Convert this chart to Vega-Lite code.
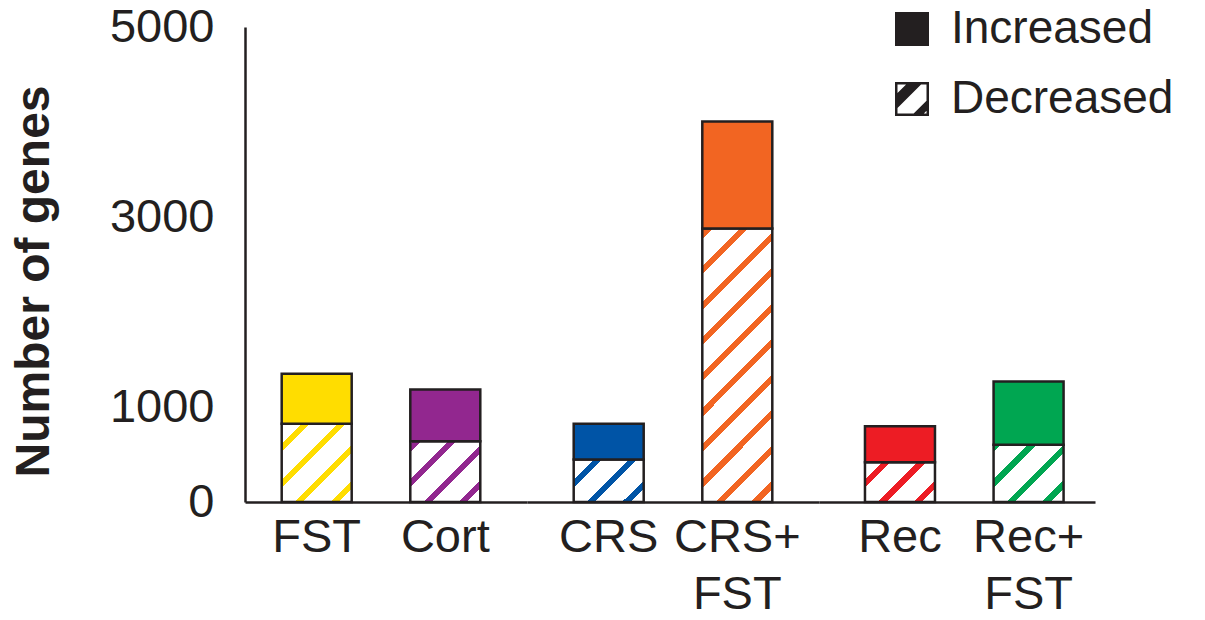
{
  "$schema": "https://vega.github.io/schema/vega-lite/v6.json",
  "padding": {"left": 10, "top": 3, "right": 0, "bottom": 0},
  "background": "white",
  "config": {
    "view": {"stroke": null},
    "font": "Liberation Sans",
    "axis": {"labelColor": "#231f20", "domainColor": "#231f20", "titleColor": "#231f20", "grid": false, "ticks": false},
    "legend": {"title": null, "orient": "none", "legendX": 644, "legendY": -21, "direction": "vertical", "symbolSize": 1156, "symbolFillColor": "#231f20", "symbolStrokeWidth": 0, "symbolOpacity": 1, "labelFontSize": 46, "labelColor": "#231f20", "labelOffset": 16, "labelLimit": 0, "rowPadding": 24, "padding": 0}
  },
  "data": {"values": [
    {"cond": "FST", "group": "A", "decreased": 823, "total": 1349},
    {"cond": "Cort", "group": "A", "decreased": 640, "total": 1184},
    {"cond": "CRS", "group": "B", "decreased": 447, "total": 823},
    {"cond": "CRS+FST", "group": "B", "decreased": 2879, "total": 4005},
    {"cond": "Rec", "group": "C", "decreased": 419, "total": 798},
    {"cond": "Rec+FST", "group": "C", "decreased": 602, "total": 1268}
  ]},
  "spacing": 0,
  "bounds": "flush",
  "hconcat": [
    {
      "width": 282, "height": 475,
      "transform": [{"filter": {"field": "group", "equal": "A"}}],
      "layer": [
        {
          "mark": {"type": "bar", "strokeWidth": 2.5, "stroke": "#231f20"},
          "encoding": {
            "x": {"field": "cond", "type": "nominal", "sort": null,
              "scale": {"domain": ["FST", "Cort"], "paddingInner": 0.45568, "paddingOuter": 0.3243, "align": 0.44},
              "axis": {"title": null, "labelAngle": 0, "labelFontSize": 47, "labelPadding": 12, "labelLineHeight": 57, "domainWidth": 2.5,
                "labelExpr": "indexof(datum.label, '+') > 0 ? [slice(datum.label, 0, indexof(datum.label, '+') + 1), slice(datum.label, indexof(datum.label, '+') + 1)] : datum.label"}},
            "y": {"field": "decreased", "type": "quantitative",
              "scale": {"domain": [0, 5000], "nice": false},
              "axis": {"values": [0, 1000, 3000, 5000], "format": "d", "labelFontSize": 47, "labelPadding": 31, "labelFlush": false, "labelOverlap": false, "domainWidth": 2.5,
                "title": "Number of genes", "titleFontSize": 48, "titleFontWeight": "bold", "titlePadding": 51, "titleY": 254}},
            "fill": {"condition": [
              {"test": "datum.cond === 'FST'", "value": {"gradient": "linear", "x1": 0, "y1": 0, "x2": 0.9418, "y2": 1.0522, "stops": [
                {"offset": 0, "color": "white"}, {"offset": 0.135, "color": "white"}, {"offset": 0.135, "color": "#FFDD00"}, {"offset": 0.1916, "color": "#FFDD00"}, {"offset": 0.1916, "color": "white"},
                {"offset": 0.3745, "color": "white"}, {"offset": 0.3745, "color": "#FFDD00"}, {"offset": 0.4312, "color": "#FFDD00"}, {"offset": 0.4312, "color": "white"},
                {"offset": 0.614, "color": "white"}, {"offset": 0.614, "color": "#FFDD00"}, {"offset": 0.6707, "color": "#FFDD00"}, {"offset": 0.6707, "color": "white"},
                {"offset": 0.8536, "color": "white"}, {"offset": 0.8536, "color": "#FFDD00"}, {"offset": 0.9103, "color": "#FFDD00"}, {"offset": 0.9103, "color": "white"}, {"offset": 1, "color": "white"}]}},
              {"test": "datum.cond === 'Cort'", "value": {"gradient": "linear", "x1": 0, "y1": 0, "x2": 1.0651, "y2": 0.9251, "stops": [
                {"offset": 0, "color": "white"}, {"offset": 0.0199, "color": "white"}, {"offset": 0.0199, "color": "#92278F"}, {"offset": 0.0841, "color": "#92278F"}, {"offset": 0.0841, "color": "white"},
                {"offset": 0.2913, "color": "white"}, {"offset": 0.2913, "color": "#92278F"}, {"offset": 0.3555, "color": "#92278F"}, {"offset": 0.3555, "color": "white"},
                {"offset": 0.5627, "color": "white"}, {"offset": 0.5627, "color": "#92278F"}, {"offset": 0.6269, "color": "#92278F"}, {"offset": 0.6269, "color": "white"},
                {"offset": 0.8341, "color": "white"}, {"offset": 0.8341, "color": "#92278F"}, {"offset": 0.8983, "color": "#92278F"}, {"offset": 0.8983, "color": "white"}, {"offset": 1, "color": "white"}]}}
            ], "value": "white"}
          }
        },
        {
          "mark": {"type": "bar", "strokeWidth": 2.5, "stroke": "#231f20"},
          "encoding": {
            "x": {"field": "cond", "type": "nominal", "sort": null,
              "scale": {"domain": ["FST", "Cort"], "paddingInner": 0.45568, "paddingOuter": 0.3243, "align": 0.44},
              "axis": {"title": null, "labelAngle": 0, "labelFontSize": 47, "labelPadding": 12, "labelLineHeight": 57, "domainWidth": 2.5,
                "labelExpr": "indexof(datum.label, '+') > 0 ? [slice(datum.label, 0, indexof(datum.label, '+') + 1), slice(datum.label, indexof(datum.label, '+') + 1)] : datum.label"}},
            "y": {"field": "total", "type": "quantitative",
              "scale": {"domain": [0, 5000], "nice": false},
              "axis": {"values": [0, 1000, 3000, 5000], "format": "d", "labelFontSize": 47, "labelPadding": 31, "labelFlush": false, "labelOverlap": false, "domainWidth": 2.5,
                "title": "Number of genes", "titleFontSize": 48, "titleFontWeight": "bold", "titlePadding": 51, "titleY": 254}},
            "y2": {"field": "decreased"},
            "fill": {"field": "cond", "type": "nominal", "legend": null,
              "scale": {"domain": ["FST", "Cort", "CRS", "CRS+FST", "Rec", "Rec+FST"], "range": ["#FFDD00", "#92278F", "#0054A6", "#F26522", "#ED1C24", "#00A651"]}}
          }
        },
        {
          "mark": {"type": "point", "filled": true, "opacity": 0, "color": "#231f20"},
          "encoding": {
            "x": {"field": "cond", "type": "nominal", "sort": null,
              "scale": {"domain": ["FST", "Cort"], "paddingInner": 0.45568, "paddingOuter": 0.3243, "align": 0.44},
              "axis": {"title": null, "labelAngle": 0, "labelFontSize": 47, "labelPadding": 12, "labelLineHeight": 57, "domainWidth": 2.5,
                "labelExpr": "indexof(datum.label, '+') > 0 ? [slice(datum.label, 0, indexof(datum.label, '+') + 1), slice(datum.label, indexof(datum.label, '+') + 1)] : datum.label"}},
            "y": {"field": "decreased", "type": "quantitative",
              "scale": {"domain": [0, 5000], "nice": false},
              "axis": {"values": [0, 1000, 3000, 5000], "format": "d", "labelFontSize": 47, "labelPadding": 31, "labelFlush": false, "labelOverlap": false, "domainWidth": 2.5,
                "title": "Number of genes", "titleFontSize": 48, "titleFontWeight": "bold", "titlePadding": 51, "titleY": 254}},
            "shape": {"datum": "Decreased", "type": "nominal",
              "scale": {"domain": ["Increased", "Decreased"], "range": ["square", "M-1,-1H1V1H-1Z M-0.853,-0.853V0.853H0.853V-0.853Z M-0.853,-0.347L-0.347,-0.853L0.533,-0.853L-0.853,0.533Z M0.853,0.097L0.853,0.697L0.697,0.853L0.097,0.853Z"]},
              "legend": {"symbolOpacity": 1, "symbolFillColor": "#231f20", "symbolStrokeWidth": 0}}
          }
        }
      ]
    },
    {
      "width": 292, "height": 475,
      "transform": [{"filter": {"field": "group", "equal": "B"}}],
      "layer": [
        {
          "mark": {"type": "bar", "strokeWidth": 2.5, "stroke": "#231f20"},
          "encoding": {
            "x": {"field": "cond", "type": "nominal", "sort": null,
              "scale": {"domain": ["CRS", "CRS+FST"], "paddingInner": 0.45568, "paddingOuter": 0.3631, "align": 0.5},
              "axis": {"title": null, "labelAngle": 0, "labelFontSize": 47, "labelPadding": 12, "labelLineHeight": 57, "domainWidth": 2.5,
                "labelExpr": "indexof(datum.label, '+') > 0 ? [slice(datum.label, 0, indexof(datum.label, '+') + 1), slice(datum.label, indexof(datum.label, '+') + 1)] : datum.label"}},
            "y": {"field": "decreased", "type": "quantitative", "scale": {"domain": [0, 5000], "nice": false}, "axis": null},
            "fill": {"condition": [
              {"test": "datum.cond === 'CRS'", "value": {"gradient": "linear", "x1": 0, "y1": 0, "x2": 1.1743, "y2": 0.7129, "stops": [
                {"offset": 0, "color": "white"}, {"offset": 0.176, "color": "white"}, {"offset": 0.176, "color": "#0054A6"}, {"offset": 0.2507, "color": "#0054A6"}, {"offset": 0.2507, "color": "white"},
                {"offset": 0.4916, "color": "white"}, {"offset": 0.4916, "color": "#0054A6"}, {"offset": 0.5662, "color": "#0054A6"}, {"offset": 0.5662, "color": "white"},
                {"offset": 0.8071, "color": "white"}, {"offset": 0.8071, "color": "#0054A6"}, {"offset": 0.8818, "color": "#0054A6"}, {"offset": 0.8818, "color": "white"}, {"offset": 1, "color": "white"}]}},
              {"test": "datum.cond === 'CRS+FST'", "value": {"gradient": "linear", "x1": 0, "y1": 0, "x2": 0.3017, "y2": 1.1787, "stops": [
                {"offset": 0, "color": "white"}, {"offset": 0.0067, "color": "white"}, {"offset": 0.0067, "color": "#F26522"}, {"offset": 0.0312, "color": "#F26522"}, {"offset": 0.0312, "color": "white"},
                {"offset": 0.11, "color": "white"}, {"offset": 0.11, "color": "#F26522"}, {"offset": 0.1345, "color": "#F26522"}, {"offset": 0.1345, "color": "white"},
                {"offset": 0.2134, "color": "white"}, {"offset": 0.2134, "color": "#F26522"}, {"offset": 0.2378, "color": "#F26522"}, {"offset": 0.2378, "color": "white"},
                {"offset": 0.3167, "color": "white"}, {"offset": 0.3167, "color": "#F26522"}, {"offset": 0.3412, "color": "#F26522"}, {"offset": 0.3412, "color": "white"},
                {"offset": 0.4201, "color": "white"}, {"offset": 0.4201, "color": "#F26522"}, {"offset": 0.4445, "color": "#F26522"}, {"offset": 0.4445, "color": "white"},
                {"offset": 0.5234, "color": "white"}, {"offset": 0.5234, "color": "#F26522"}, {"offset": 0.5479, "color": "#F26522"}, {"offset": 0.5479, "color": "white"},
                {"offset": 0.6268, "color": "white"}, {"offset": 0.6268, "color": "#F26522"}, {"offset": 0.6512, "color": "#F26522"}, {"offset": 0.6512, "color": "white"},
                {"offset": 0.7301, "color": "white"}, {"offset": 0.7301, "color": "#F26522"}, {"offset": 0.7546, "color": "#F26522"}, {"offset": 0.7546, "color": "white"},
                {"offset": 0.8335, "color": "white"}, {"offset": 0.8335, "color": "#F26522"}, {"offset": 0.8579, "color": "#F26522"}, {"offset": 0.8579, "color": "white"},
                {"offset": 0.9368, "color": "white"}, {"offset": 0.9368, "color": "#F26522"}, {"offset": 0.9613, "color": "#F26522"}, {"offset": 0.9613, "color": "white"}, {"offset": 1, "color": "white"}]}}
            ], "value": "white"}
          }
        },
        {
          "mark": {"type": "bar", "strokeWidth": 2.5, "stroke": "#231f20"},
          "encoding": {
            "x": {"field": "cond", "type": "nominal", "sort": null,
              "scale": {"domain": ["CRS", "CRS+FST"], "paddingInner": 0.45568, "paddingOuter": 0.3631, "align": 0.5},
              "axis": {"title": null, "labelAngle": 0, "labelFontSize": 47, "labelPadding": 12, "labelLineHeight": 57, "domainWidth": 2.5,
                "labelExpr": "indexof(datum.label, '+') > 0 ? [slice(datum.label, 0, indexof(datum.label, '+') + 1), slice(datum.label, indexof(datum.label, '+') + 1)] : datum.label"}},
            "y": {"field": "total", "type": "quantitative", "scale": {"domain": [0, 5000], "nice": false}, "axis": null},
            "y2": {"field": "decreased"},
            "fill": {"field": "cond", "type": "nominal", "legend": null,
              "scale": {"domain": ["FST", "Cort", "CRS", "CRS+FST", "Rec", "Rec+FST"], "range": ["#FFDD00", "#92278F", "#0054A6", "#F26522", "#ED1C24", "#00A651"]}}
          }
        }
      ]
    },
    {
      "width": 276, "height": 475,
      "transform": [{"filter": {"field": "group", "equal": "C"}}],
      "layer": [
        {
          "mark": {"type": "bar", "strokeWidth": 2.5, "stroke": "#231f20"},
          "encoding": {
            "x": {"field": "cond", "type": "nominal", "sort": null,
              "scale": {"domain": ["Rec", "Rec+FST"], "paddingInner": 0.45568, "paddingOuter": 0.3009, "align": 0.594},
              "axis": {"title": null, "labelAngle": 0, "labelFontSize": 47, "labelPadding": 12, "labelLineHeight": 57, "domainWidth": 2.5,
                "labelExpr": "indexof(datum.label, '+') > 0 ? [slice(datum.label, 0, indexof(datum.label, '+') + 1), slice(datum.label, indexof(datum.label, '+') + 1)] : datum.label"}},
            "y": {"field": "decreased", "type": "quantitative", "scale": {"domain": [0, 5000], "nice": false}, "axis": null},
            "fill": {"condition": [
              {"test": "datum.cond === 'Rec'", "value": {"gradient": "linear", "x1": 0, "y1": 0, "x2": 1.1854, "y2": 0.674, "stops": [
                {"offset": 0, "color": "white"}, {"offset": 0.1557, "color": "white"}, {"offset": 0.1557, "color": "#ED1C24"}, {"offset": 0.2322, "color": "#ED1C24"}, {"offset": 0.2322, "color": "white"},
                {"offset": 0.4791, "color": "white"}, {"offset": 0.4791, "color": "#ED1C24"}, {"offset": 0.5556, "color": "#ED1C24"}, {"offset": 0.5556, "color": "white"},
                {"offset": 0.8024, "color": "white"}, {"offset": 0.8024, "color": "#ED1C24"}, {"offset": 0.8789, "color": "#ED1C24"}, {"offset": 0.8789, "color": "white"}, {"offset": 1, "color": "white"}]}},
              {"test": "datum.cond === 'Rec+FST'", "value": {"gradient": "linear", "x1": 0, "y1": 0, "x2": 1.0896, "y2": 0.8904, "stops": [
                {"offset": 0, "color": "#00A651"}, {"offset": 0.0582, "color": "#00A651"}, {"offset": 0.0582, "color": "white"},
                {"offset": 0.2712, "color": "white"}, {"offset": 0.2712, "color": "#00A651"}, {"offset": 0.3373, "color": "#00A651"}, {"offset": 0.3373, "color": "white"},
                {"offset": 0.5503, "color": "white"}, {"offset": 0.5503, "color": "#00A651"}, {"offset": 0.6164, "color": "#00A651"}, {"offset": 0.6164, "color": "white"},
                {"offset": 0.8294, "color": "white"}, {"offset": 0.8294, "color": "#00A651"}, {"offset": 0.8954, "color": "#00A651"}, {"offset": 0.8954, "color": "white"}, {"offset": 1, "color": "white"}]}}
            ], "value": "white"}
          }
        },
        {
          "mark": {"type": "bar", "strokeWidth": 2.5, "stroke": "#231f20"},
          "encoding": {
            "x": {"field": "cond", "type": "nominal", "sort": null,
              "scale": {"domain": ["Rec", "Rec+FST"], "paddingInner": 0.45568, "paddingOuter": 0.3009, "align": 0.594},
              "axis": {"title": null, "labelAngle": 0, "labelFontSize": 47, "labelPadding": 12, "labelLineHeight": 57, "domainWidth": 2.5,
                "labelExpr": "indexof(datum.label, '+') > 0 ? [slice(datum.label, 0, indexof(datum.label, '+') + 1), slice(datum.label, indexof(datum.label, '+') + 1)] : datum.label"}},
            "y": {"field": "total", "type": "quantitative", "scale": {"domain": [0, 5000], "nice": false}, "axis": null},
            "y2": {"field": "decreased"},
            "fill": {"field": "cond", "type": "nominal", "legend": null,
              "scale": {"domain": ["FST", "Cort", "CRS", "CRS+FST", "Rec", "Rec+FST"], "range": ["#FFDD00", "#92278F", "#0054A6", "#F26522", "#ED1C24", "#00A651"]}}
          }
        }
      ]
    }
  ]
}
